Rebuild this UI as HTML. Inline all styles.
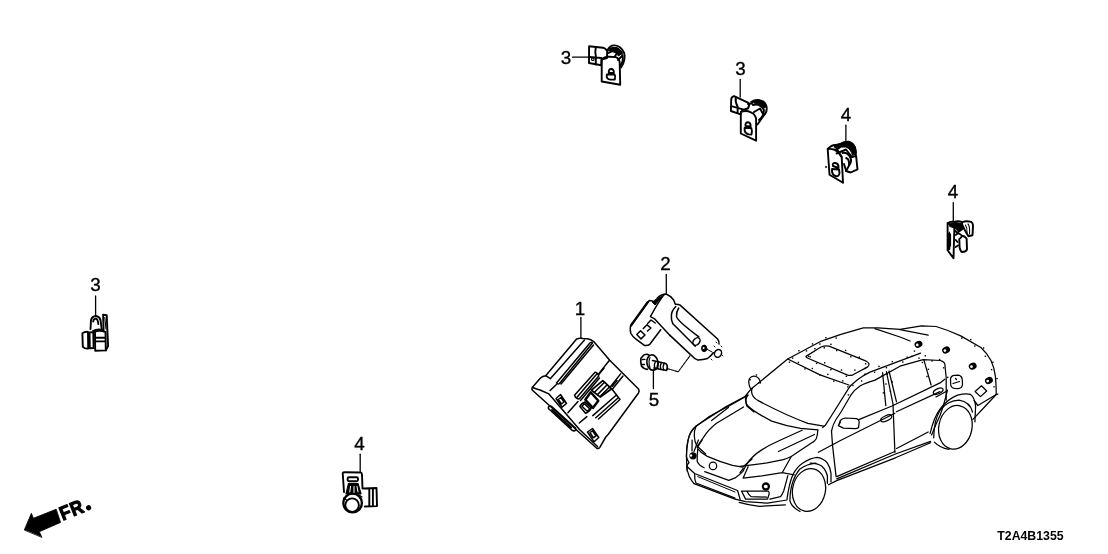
<!DOCTYPE html>
<html><head><meta charset="utf-8">
<style>
html,body{margin:0;padding:0;background:#fff;width:1108px;height:554px;overflow:hidden}
svg{display:block;will-change:transform}
text{font-family:"Liberation Sans",sans-serif;fill:#000}
</style></head><body>
<svg width="1108" height="554" viewBox="0 0 1108 554">
<rect width="1108" height="554" fill="#fff"/>
<g fill="none" stroke="#000" stroke-width="1.3" stroke-linecap="round" stroke-linejoin="round">

<!-- labels -->
<g font-size="18.8" stroke="#000" stroke-width="0.35" fill="#000" text-anchor="middle">
<text x="566" y="63.5">3</text>
<text x="740.5" y="74.5">3</text>
<text x="846" y="121">4</text>
<text x="953" y="197.8">4</text>
<text x="95.5" y="291">3</text>
<text x="359.5" y="450">4</text>
<text x="580" y="314.6">1</text>
<text x="665.5" y="270.2">2</text>
<text x="654" y="406.2">5</text>
</g>
<text x="997.3" y="540" font-size="13" font-weight="bold" stroke="none" textLength="66.3" lengthAdjust="spacingAndGlyphs">T2A4B1355</text>


<!-- sensor 3 top -->
<g stroke-width="1.9">
<path d="M589.1 46.3 L603 47.7 Q605.5 48.5 607.2 51 L607 58 L601.5 59.5 L601.2 65.3 L589 63 Z"/>
<path d="M595.8 47.5 Q594.6 52 596 57.3 M589.1 57 L601.5 58 M595.8 58 V64.4"/>
<circle cx="592.8" cy="59.2" r="1.3" stroke-width="1.1"/>
<path d="M601.7 81.5 L601.7 60 Q603.5 56.5 609.4 56.7 L615.7 57.1 Q619.5 58.5 619.7 62.6 L620.2 84.7 Z"/>
<path d="M608.8 73 Q608.5 69 611.2 69 Q614 69 613.8 73 Z M606.8 74.5 Q606 79.5 610.5 79.6 L614.8 79.6 Q615.8 76 614.6 74.5 Z"/>
<path d="M607.6 50 Q610 45 614.8 45.4 Q621 45.8 624.2 53 Q626 60 621.1 67.5"/>
<path d="M609.5 48.5 Q617 46 622 54 M608.5 53 L614 50.5 L617 53 L614.5 57 M618 60 L622.5 55.5 Q624 61 620 66"/>
<path d="M608.5 50.5 Q612 46.5 617 47.5 Q621 49.5 622.5 53 L618.5 56 Q616 51.5 612 51.5 Z" fill="#000" stroke-width="1"/>
</g>


<!-- sensor 3 mid -->
<g stroke-width="1.9">
<path d="M734 96.1 Q731 97 731.2 100 L730.9 111 L738.5 113.7 L740.8 114 M734 96.1 L748.5 102.8 Q750 105 748 108.5 L742 110"/>
<path d="M735.8 97.4 Q735 102 737.6 106.4 L737.6 113 M732.2 106.4 L742.1 109.1"/>
<path d="M740.8 112 L740.8 133.5 L756.1 140.7 L756.1 118.2 Q754.5 113.5 751 112.3 Q746 110 740.8 112"/>
<path d="M745.5 126 Q745 122.3 748 122.3 Q750.8 122.5 750.6 126.5 Z M744.6 128 Q744 133.5 749 134.4 L751.5 134.6 Q752.5 131 751.3 128 Z"/>
<path d="M751.2 101.9 Q754 99.8 759.3 100.1 Q765 101 766.5 106.4 Q767.5 112 763.8 115.5 L757.5 124.5"/>
<path d="M753 105 Q760 103 764 110 Q764 116 759 120 M748 104 L752 103.5 M754 112 L760 108.5 L762.5 113"/>
<path d="M752 102 Q756 99.5 760 100.2 Q765 101.5 766.5 106.5 L764 108 Q761 103.5 756 103.5 Z" fill="#000" stroke-width="1"/>
</g>


<!-- sensor 4 upper -->
<g stroke-width="1.9">
<path d="M827.7 149 L829.5 174.7 L843 182.8 L841.7 157.1 Q838 151 834 149.5 Q830 148.5 827.7 149 Z"/>
<path d="M827.7 149 Q832 144.5 836 145 L841.7 143.6 Q845 141.5 848.9 141.8 Q854 143 855.2 148.5 Q856.5 152 855.6 156"/>
<path d="M834.5 145 L841.7 157.1 M836.5 153.5 L846 149.5 L852 157"/>
<path d="M833 166 Q832 162.5 835.5 163 Q839 164 838.5 168 Z M832 169 Q831.5 175 835.5 176 Q839 177 839.5 173 L839 169.5 Z"/>
<path d="M842.6 153 Q847 152 849.5 156 Q852 160 850.5 163 L846 171 L850.7 172.5 L857.5 169.3 L856.1 155.8 L850.7 157.6"/>
<path d="M846.2 158 Q849.5 159 849 165 M844 164 L846.2 171"/>
<circle cx="825.9" cy="167" r="0.6" stroke-width="0.9"/>
<path d="M838 144.5 Q843 141 848.9 141.5 Q854.5 143 855.8 149 L856 154 L852.5 155.5 Q851 149 846 147 Q841 146.5 838 148 Z" fill="#000" stroke-width="1"/>
<path d="M836 150 L840 147.5 M834.5 147 L838 145.5" stroke-width="1.5"/>
</g>


<!-- sensor 4 right -->
<g stroke-width="1.9">
<path d="M947.6 223.1 L947.6 250.2 L953.5 258.3 L954.4 226.7 L947.6 223.1 M947.6 223.1 Q951 221 954.4 222 Q958 220.5 962.1 222.2"/>
<path d="M949.5 232 L949.5 248 M950.5 234 V246" stroke-width="1.2"/>
<path d="M951 225 Q955 223 960 225.5 L962.5 229 L957 233 L955.5 231"/>
<path d="M962.1 222.2 Q966 220.5 971.1 221.8 Q973.5 223.5 972.9 228 L972.5 235.3 L968.4 236.2 Q964.5 230 962.1 224.5 Z"/>
<path d="M968 224 Q970 226 969.5 234 M965.5 225 Q967.5 228 967 233" stroke-width="1.1"/>
<path d="M955.8 234.9 Q958.5 232 962 235.8 Q961 238 959.3 239 L959.6 247.5 Q960.5 251.5 962.1 252 Q966 252 967 249.3 L966.6 238.5 Q964.5 236 962 235.8"/>
<path d="M955.8 240 L957.5 242 M955.6 247 L958 245.5"/>
<path d="M950 224 Q955 221.5 961 223.5 L962.5 228 L958.5 231.5 Q955 227 950 226.5 Z" fill="#000" stroke-width="1"/>
<path d="M949 234 L949 249" stroke-width="2.6"/>
</g>


<!-- sensor 3 left -->
<g stroke-width="1.9">
<path d="M90.5 329 L91 320 Q92 316.2 95.9 316 Q99.5 316.5 100.5 320 L101.8 329.6"/>
<path d="M93.2 321.5 Q93.5 318.5 96 318.6 Q98 319.5 98.3 324"/>
<path d="M103.1 314.8 L106.7 315.2 L108.1 346 L105.8 350.4 M103.1 314.8 L103.6 331"/>
<path d="M104.8 317.5 L106 329" stroke-width="1.1"/>
<path d="M82.4 333.2 Q85 331.5 88 331.9 L88.2 348.6 Q85 349 82.8 346.8 Z"/>
<path d="M89.5 332.4 L93.3 332.3 L93.6 348 L89.8 348.3 Z"/>
<path d="M95 331.5 Q100 330 105.5 332 L105.8 350.4 L95.2 350.8 Z M95 337.8 H105.6 M95.2 341.4 H105.6"/>
<path d="M93 331 Q97 328.5 103 330"/>
</g>


<!-- sensor 4 bottom -->
<g stroke-width="1.9">
<path d="M344 492 L342.7 473 Q343 472.3 345 472.3 L361 472.5 Q362 473 362 475 L362.5 488.5"/>
<rect x="347.6" y="477.2" width="10.4" height="4" rx="1.5"/>
<path d="M363.9 488.5 L376.5 488 L377 506.1 L364.8 506.5 M369.3 489 V506 M372.9 489 V506"/>
<circle cx="352.6" cy="503" r="9.3" stroke-width="2.3"/>
<circle cx="352.1" cy="505.2" r="6.8"/>
<path d="M348.5 483.5 L358 483.5 L361 494 L346 494 Z" fill="#000" stroke-width="1.2"/>
<path d="M350.5 486.5 L349.8 492 M354 486.5 V492.5 M357 486.5 L358 492" stroke="#fff" stroke-width="1"/>
<path d="M343.5 498 L346.5 500 M359 495 L362 497" stroke-width="1.2"/>
</g>


<!-- FR arrow -->
<path d="M24.4 529.7 L31.4 513.3 L33.4 518.3 L56.2 509.2 L60.6 522.4 L39.3 531.7 L41.8 537.1 Z" fill="#000" stroke="#000" stroke-width="0.8"/>
<g transform="translate(58.1 508) rotate(-22)">
<text x="-0.6" y="13.6" font-size="19.5" font-weight="bold" stroke="#000" stroke-width="1.1" letter-spacing="0.6" transform="scale(0.9 1)">FR</text>
<circle cx="28.4" cy="11.2" r="2.6" fill="#000" stroke="none"/>
</g>


<!-- module 1 -->
<g stroke-width="1.5">
<path d="M576.6 339.1 Q579 337.8 583 338.4 L587.4 338.8 Q591 339.5 593.7 341.6 L609.5 360 L638.5 389 Q639.8 391 638.5 393 L608.3 434.3 L605.8 437 L599.8 447.3 Q598.5 449.3 596.5 448 L532.2 390 Q531.3 387.5 533.3 386.3 L540.5 378 Q542.5 376 545.7 375.7 L576.6 339.1"/>
<path d="M545.7 375.7 L550.3 378.7 L584.5 340"/>
<path d="M556.5 383 L589.5 343.5 Q591 341.5 592.5 343 L559.5 383.5 Q558 384.7 556.5 383 Z"/>
<path d="M561 384 L593.5 345"/>
<path d="M533.3 387.8 Q536.5 389.3 540 390 L548.9 393.9 L579.5 429.5 L597.5 446.5"/>
<path d="M548.5 407 Q550 405 552 406.8 L575.5 428 Q576.5 430.5 574 431 L572 430.2 L550 410 Q547.8 408.5 548.5 407 Z"/>
<path d="M552 410 L571 427.5" stroke-width="2"/>
<path d="M598.4 374.1 L609.5 360.3 M609.7 387.8 L620.6 373.9 M612.5 389 L623 376 M567.9 412.8 L578 401.5 M579.3 423 L586.8 416.6 M550.1 390.5 L556.4 384.5"/>
<path d="M556 398.5 L560.5 394.5 L566.5 403.5 L562 407.2 Z M558.3 399.5 L561 397.5 L564 402 L561.5 404 Z"/>
<path d="M587.5 432 L592.5 428.5 L598.8 437.5 L594 441.8 Z M590 432.5 L592.5 430.8 L596 435.8 L593.3 437.8 Z"/>
<!-- connector -->
<path d="M574.5 395.3 L594.8 372.4 Q596.5 371.5 598.8 375.9 L579.4 398.8 Q576 399.5 574.5 395.3 Z M577.4 396.8 L596.8 373.9 M580.5 400.5 L599.5 378"/>
<path d="M591.5 390.1 L602.8 380.6 L611.7 388.8 L600.3 397.1 Z" stroke-width="1.8"/>
<path d="M594.5 392.3 L604.5 382.2 M597.5 394.6 L607.2 384.8 M600.5 396 L609.5 387" stroke-width="1.5"/>
<path d="M590.7 392.2 L598.3 400.8 L592.9 407.9 L585.3 399.7 Z" stroke-width="2.4"/>
<path d="M579.9 406.5 Q580.5 404 585 402 L591.2 408 Q590 411.5 585.5 413.3 Z M584.5 403.8 L589.8 409 L587.3 411.3 L581.9 406.2 Z" stroke-width="1.5"/>
<path d="M612.3 386.3 L617 380.6 M599 374.3 L604.1 368"/>
<path d="M592.8 415.6 L616.7 394.8 M595.8 417.8 L618.5 397.5 M598.5 419 L620 399.5 L611.7 388.8"/>
</g>

<!-- bracket 2 -->
<g stroke-width="1.5">
<path d="M657.4 297.7 Q661.5 294 666.1 294 Q670 295.5 673.7 299.9 L675.3 304.2 Q678 304 680.1 305.1 L717.6 339 Q719.5 341.5 719 344 M670 335.4 L691.6 355.6 Q694.5 359 697.4 359.9 Q703 360 707.5 358.5 Q711 356 713.3 352.7"/>
<path d="M664.4 294.5 Q660 299 650.4 316.7 L654.7 318.9 L670 335.4"/>
<path d="M649.3 300.5 L652.5 301 L655.2 303.2 M649.3 300.5 L630.3 327 Q630 331 630.9 333.5 Q632.5 336.5 635.7 338.9 L644.4 345.4 Q647.5 346 649.8 344.3 L660.7 329.7"/>
<path d="M647.7 302.1 L630.9 325.4" stroke-width="2.2"/>
<path d="M657 298.5 L662 296.5 L655 305 L652.5 302.5 Z" fill="#000" stroke-width="1"/>
<path d="M636.8 334.5 L640.5 330.8 L645 335 L641 338.9 Z M643.3 328.5 L647 324.8 L650.9 328 L647.5 331 M647.7 323.5 L651 320 L655.2 323"/>
<path d="M675.8 306.5 Q671.5 311 671.4 315.2 Q671 320 672.9 323.8 L693.1 344 L695.2 346.2 M678.7 308 Q676 312 676.5 316.6 Q677.5 321 698.8 336.8"/>
<ellipse cx="696.5" cy="341.5" rx="3" ry="4.2" transform="rotate(40 696.5 341.5)"/>
<ellipse cx="704.2" cy="348.4" rx="2.6" ry="3.3" fill="#000" stroke-width="1"/>
<circle cx="703.6" cy="348" r="1" fill="#fff" stroke="none"/>
<ellipse cx="718" cy="353.4" rx="3.4" ry="4" transform="rotate(30 718 353.4)"/>
<path d="M707.5 349.5 L712 352" stroke-width="1"/>
<path d="M716 342 L717 343 M721 346 L722 347 M714 346 L715 347 M711 359 L712 360 M722 355 L723 356" stroke-width="0.9"/>
</g>
<!-- bolt 5 -->
<g stroke-width="1.7">
<path d="M642 357 Q644 354 647 354.3 L649 355 M641 358 Q640.3 362 641.5 366 Q643.5 369 647.5 369.3"/>
<path d="M642.5 359.5 L645 359.3 M642 364.5 L644.5 364.5" stroke-width="1.3"/>
<ellipse cx="652.5" cy="362.6" rx="5.6" ry="7.7" transform="rotate(-10 652.5 362.6)"/>
<path d="M650 357.5 Q648 362 650 367.5" stroke-width="1.1"/>
<path d="M652.5 360.5 L665.8 363.5 Q668.5 366 666.5 370.5 L654 368"/>
<path d="M655.5 361.5 Q653.5 365 655 368.5 M658.5 362 Q656.5 365.5 658 369 M661.5 362.5 Q659.5 366 661 369.7 M664.3 363.2 Q662.3 366.5 663.8 370.2" stroke-width="1.3"/>
</g>
<path d="M667.4 368.6 L678.2 371.8 L690.1 355.6" stroke-width="1.1" stroke-dasharray="3 1"/>


<!-- car -->
<g stroke-width="1.25">
<!-- roof / A pillar left / fender outer -->
<path d="M687.2 470 Q685.8 456 687.2 444.9 Q688.5 436 691 432 Q693.5 428 696 426 L726.2 406.6 L745 396.5 L750.8 389.3 L787.7 359 L820 341.7 Q842 333.5 863.3 327.9 L877.8 327.9 L900 329.4 L921.7 325.8 L936.1 326.5 Q948 330 960.7 335.9 L980.9 347.5 Q987 353 991 360.5 Q994.5 368 995.4 376.4 L996.1 386.5 L996.2 394.5 L985 406.5 L972.9 419.4"/>
<!-- trunk lines -->
<path d="M874.9 328.7 L900 337 L910.1 341 M900 329.6 L928.2 335.2"/>
<!-- windshield top -->
<path d="M787.7 359 L820 374.9 L848.9 385"/>
<!-- sunroof -->
<path d="M806.4 356.1 L821 347 Q825.5 345.2 829 346.2 L866.2 361.2 Q871 363.5 867.7 366.9 L853 374.8 Q850 376 847 374.8 L808.5 358.5 Q805 357 806.4 356.1 Z"/>
<!-- A pillar right / door frame -->
<path d="M849.9 386.3 L831.9 415 L825.1 425.6 L822.6 427.5"/>
<path d="M849.9 386.3 L857.2 380 Q862 376 870 372.1 L895.3 362.6 L920.6 353.2"/>
<path d="M831.5 431 Q833 424 836 419.5 L841 412 L850.8 395.2 Q854 390 860 386 Q865 383 875 380.1 L900 366.2 L923.1 359.7 L940.5 360.5 Q944.5 362 944.8 364 L946.2 377.8 L946.2 400"/>
<!-- B pillar -->
<path d="M882.6 372.7 L885.8 405.6 M886.4 371.5 L893 404 L894.9 452.3 M889 371 L896.5 401.8"/>
<!-- rear door window rear edge -->
<path d="M923.8 359.7 L931.1 385"/>
<!-- windshield bottom & cowl -->
<path d="M752.2 388 Q749.5 396 758.7 400.9 Q785 415 807.8 423.3 L823.7 426.2"/>
<path d="M746.4 395.8 Q744 401 748 406 Q754 412 771.7 421.1 Q786 426 800.6 428.4 L817.9 429.8"/>
<!-- left mirror -->
<path d="M750.8 389.3 Q747.5 383 749.5 378.5 Q752 375 756 376.5 Q760 378.5 760.5 383"/>
<!-- hood lines -->
<path d="M748 395.1 L727.3 407 Q715 413 708.9 416.8 L695.9 426.5 Q690 431 688.3 439.5 Q686.4 447 686.4 456.4 Q687 460 689 462.7 Q686.5 465 687 466.5 Q687 472 687.7 471.6 Q689 477 691.5 480.4 L694 483.6"/>
<path d="M696 426.5 Q693.8 431 694.3 436 Q694.5 442 697 446 L705.7 454"/>
<path d="M711.6 420.5 L728.4 407.5"/>
<path d="M743.6 407 L716.5 423.3 Q708 430 703.5 437.3 L697.5 446"/>
<path d="M748 395 Q744.5 400 746.8 405.9 L754 411.9"/>
<!-- headlight right -->
<path d="M746 465.1 Q752 456 761.7 449.9 Q769 445 777.9 441.2 L802.1 430.2 M778.4 451.5 L814.5 434.5"/>
<path d="M817.8 430.2 Q817.5 436 816.2 438.8 Q815 441 812.9 442.1 L791.2 456.5 Q786 458.8 783.3 459.7 L767.1 462.9 L740 466.4"/>
<path d="M791 457 L782.2 472.7 L761.7 475.9 L743.2 478.1 L748.1 466.7 M782.2 472.7 L794.2 474.8 M743.2 468.3 L740 472.7"/>
<!-- left headlight -->
<path d="M692.1 440 L692 451 M698.4 440 L694 451.4 M702.2 440 L697.2 447.6"/>
<circle cx="693" cy="455.8" r="3" fill="#000"/>
<circle cx="691" cy="455.5" r="1.2" fill="#fff" stroke="none"/>
<!-- grille -->
<path d="M697.8 448.8 Q701 453 707.3 456.4 Q720 462 732.5 465.3 L742.7 467.2 L747.7 462.7 L752 459"/>
<path d="M697.8 448.8 Q697 455 697.2 461.5 Q699 465.5 704.1 467.8"/>
<path d="M704.7 471.6 L728.8 480.4 L735.1 477.9 Q740 474.5 742.7 471.6 L746 465.5"/>
<circle cx="713" cy="465.9" r="3.7"/>
<!-- bumper -->
<path d="M687 466.5 L694.6 473.5 L731.3 488 L737.6 490.5 L740.1 499.4"/>
<path d="M694 483.6 L735 499.1 L745.6 501.6 L767.5 503.2 L787 500"/>
<path d="M739.1 502.4 Q748 505 759.4 506.4 L785.4 504.8"/>
<path d="M694.6 474.1 Q694.5 480 695.9 483 L735.1 498.1"/>
<path d="M697.8 476.6 L735 492" stroke-width="1"/>
<circle cx="765.9" cy="486.5" r="3" stroke-width="2.3"/>
<circle cx="765" cy="486.5" r="1.2" fill="#fff" stroke="none"/>
<path d="M741.5 491 L768.3 491 Q769.5 493 769.1 494.2 L767.5 499.1 L745.6 499.1 Z M747.2 491.8 Q749 495.5 751.2 496.7 L766.7 497.1"/>
<path d="M787.8 475.6 Q786 483 783.7 491 Q782 495 780.5 496.7 L769.9 499.1"/>
<!-- front wheel -->
<ellipse cx="809" cy="490" rx="16.4" ry="21.6" transform="rotate(12 809 490)"/>
<path d="M800 511.5 Q791 506.5 789.9 500.6 Q790 490 792.8 481.9 Q795.5 474 800 468.9 Q807 464 815.9 463.1"/>
<path d="M787 499.2 Q789 484 792.8 474.7 Q797 467 802.9 463.1 Q810 458 817.3 457.3 Q824 458.5 827.4 463.1 Q830.5 468 831 473.2 L831 481.9"/>
<path d="M810.1 463.1 Q817 463 821.6 466 Q826 470 827.4 476 L827.4 483.3"/>
<!-- sill -->
<path d="M836.7 476.6 L894.8 451.5 M896.6 448.5 L928.2 432 M836.7 478.8 L895.4 454 L930.6 441.4 M828.5 484.8 L836.7 480.6 L895.4 457.8 L930.6 442.8"/>
<!-- door edges -->
<path d="M831.5 431 L832.6 446.1 L836.1 476.6"/>
<!-- belt lines -->
<path d="M858.8 419.7 L892 406 L940 382.9 L944.8 379.2 M896.4 411.8 L940 391.6"/>
<!-- character line -->
<path d="M818.4 452.3 L840 440.7 L894.9 413.2 M936 397 L947 391"/>
<!-- side mirror -->
<path d="M840.3 420.5 Q842.5 418 845.3 418 L856.7 418.6 Q859 419.5 859.2 421.8 L858.6 427.5 Q857 428.7 855.4 428.7 L843.4 428.1 L838.4 425.6 Z M838.4 425.6 L840.5 422"/>
<!-- door handles -->
<ellipse cx="886.2" cy="418.3" rx="6" ry="2.6" transform="rotate(-25 886.2 418.3)"/>
<ellipse cx="938.2" cy="391.2" rx="5.2" ry="2.5" transform="rotate(-25 938.2 391.2)"/>
<!-- rear door rear edge -->
<path d="M947.4 390.1 Q944 405 940.2 415 Q935.5 425 931.6 434.9"/>
<!-- fuel door & reflector -->
<path d="M950.5 379.5 Q950.5 376 954 375.4 L958.5 375.2 Q962 376 962.3 380 L962.5 384.5 Q962 388.6 958 388.6 L954.5 388.4 Q951 388 950.7 384.5 Z M953 383.5 L959.5 381.5 M955.5 378.5 L956.5 379.5"/>
<path d="M975.1 391.5 L981.5 385.8 L986.7 391 L980.5 396.6 Z"/>
<!-- rear wheel -->
<ellipse cx="955.4" cy="427.3" rx="16.6" ry="22" transform="rotate(12 955.4 427.3)"/>
<path d="M933.7 437.8 Q934 420 940.2 410 Q948 400.5 959 400.2 Q970 402 972.5 412"/>
<path d="M930.1 433.4 Q934 417 940.2 408.9 Q947 399.5 957.5 395.2 Q966 393 970.5 394.4 Q974.5 397 975.6 406 L974.9 421.9"/>
<path d="M974.1 400.5 L977.9 405.5 L996.2 394.5"/>
<path d="M934.4 442.1 Q940 448 948.9 449.3"/>
<!-- sensor dots -->
<ellipse cx="918.5" cy="344.3" rx="3.4" ry="2.7" transform="rotate(-25 918.5 344.3)" fill="#000" stroke-width="1.3"/>
<ellipse cx="917.3" cy="344.9" rx="1.3" ry="1.4" fill="#fff" stroke="none"/>
<ellipse cx="946.1" cy="350.0" rx="3.4" ry="2.7" transform="rotate(-25 946.1 350.0)" fill="#000" stroke-width="1.3"/>
<ellipse cx="944.9" cy="350.6" rx="1.3" ry="1.4" fill="#fff" stroke="none"/>
<ellipse cx="972.7" cy="366.1" rx="3.4" ry="2.7" transform="rotate(-25 972.7 366.1)" fill="#000" stroke-width="1.3"/>
<ellipse cx="971.5" cy="366.7" rx="1.3" ry="1.4" fill="#fff" stroke="none"/>
<ellipse cx="988.9" cy="380.5" rx="3.4" ry="2.7" transform="rotate(-25 988.9 380.5)" fill="#000" stroke-width="1.3"/>
<ellipse cx="987.7" cy="381.1" rx="1.3" ry="1.4" fill="#fff" stroke="none"/>
</g>


<!-- dots -->
<g fill="#000" stroke="none">
<rect x="788.8" y="361.4" width="1.4" height="1.4"/>
<rect x="797.7" y="361.7" width="1.4" height="1.4"/>
<rect x="804.3" y="368.2" width="1.4" height="1.4"/>
<rect x="811.6" y="367.8" width="1.4" height="1.4"/>
<rect x="819.2" y="374.2" width="1.4" height="1.4"/>
<rect x="827.2" y="373.7" width="1.4" height="1.4"/>
<rect x="833.1" y="380.5" width="1.4" height="1.4"/>
<rect x="842.1" y="380.2" width="1.4" height="1.4"/>
<rect x="847.1" y="386.2" width="1.4" height="1.4"/>
<rect x="791.9" y="357.4" width="1.4" height="1.4"/>
<rect x="798.2" y="350.0" width="1.4" height="1.4"/>
<rect x="805.8" y="350.2" width="1.4" height="1.4"/>
<rect x="811.8" y="343.2" width="1.4" height="1.4"/>
<rect x="819.2" y="343.3" width="1.4" height="1.4"/>
<rect x="825.2" y="337.0" width="1.4" height="1.4"/>
<rect x="835.5" y="337.3" width="1.4" height="1.4"/>
<rect x="808.0" y="355.7" width="1.4" height="1.4"/>
<rect x="814.2" y="348.0" width="1.4" height="1.4"/>
<rect x="823.6" y="347.1" width="1.4" height="1.4"/>
<rect x="830.3" y="343.6" width="1.4" height="1.4"/>
<rect x="836.0" y="349.8" width="1.4" height="1.4"/>
<rect x="844.9" y="349.7" width="1.4" height="1.4"/>
<rect x="850.1" y="356.1" width="1.4" height="1.4"/>
<rect x="858.6" y="356.4" width="1.4" height="1.4"/>
<rect x="864.9" y="363.1" width="1.4" height="1.4"/>
<rect x="864.5" y="367.7" width="1.4" height="1.4"/>
<rect x="854.2" y="369.4" width="1.4" height="1.4"/>
<rect x="845.7" y="375.6" width="1.4" height="1.4"/>
<rect x="840.8" y="369.3" width="1.4" height="1.4"/>
<rect x="830.2" y="369.0" width="1.4" height="1.4"/>
<rect x="824.0" y="362.1" width="1.4" height="1.4"/>
<rect x="815.9" y="362.7" width="1.4" height="1.4"/>
<rect x="809.5" y="356.1" width="1.4" height="1.4"/>
<rect x="847.7" y="394.2" width="1.4" height="1.4"/>
<rect x="852.2" y="384.8" width="1.4" height="1.4"/>
<rect x="860.9" y="380.3" width="1.4" height="1.4"/>
<rect x="864.3" y="373.4" width="1.4" height="1.4"/>
<rect x="873.9" y="371.6" width="1.4" height="1.4"/>
<rect x="878.3" y="365.7" width="1.4" height="1.4"/>
<rect x="885.7" y="367.0" width="1.4" height="1.4"/>
<rect x="891.6" y="360.9" width="1.4" height="1.4"/>
<rect x="902.1" y="361.4" width="1.4" height="1.4"/>
<rect x="911.0" y="355.7" width="1.4" height="1.4"/>
<rect x="918.3" y="357.4" width="1.4" height="1.4"/>
<rect x="924.6" y="355.1" width="1.4" height="1.4"/>
<rect x="931.4" y="360.2" width="1.4" height="1.4"/>
<rect x="938.9" y="358.8" width="1.4" height="1.4"/>
<rect x="942.9" y="367.1" width="1.4" height="1.4"/>
<rect x="947.1" y="376.7" width="1.4" height="1.4"/>
<rect x="880.9" y="375.5" width="1.4" height="1.4"/>
<rect x="885.3" y="383.3" width="1.4" height="1.4"/>
<rect x="882.7" y="392.2" width="1.4" height="1.4"/>
<rect x="886.6" y="373.6" width="1.4" height="1.4"/>
<rect x="891.5" y="381.2" width="1.4" height="1.4"/>
<rect x="889.7" y="390.5" width="1.4" height="1.4"/>
<rect x="921.7" y="361.8" width="1.4" height="1.4"/>
<rect x="927.7" y="368.6" width="1.4" height="1.4"/>
<rect x="926.3" y="375.8" width="1.4" height="1.4"/>
<rect x="961.1" y="337.4" width="1.4" height="1.4"/>
<rect x="970.1" y="338.9" width="1.4" height="1.4"/>
<rect x="974.1" y="345.3" width="1.4" height="1.4"/>
<rect x="982.9" y="347.3" width="1.4" height="1.4"/>
<rect x="984.7" y="355.6" width="1.4" height="1.4"/>
<rect x="992.2" y="361.6" width="1.4" height="1.4"/>
<rect x="990.9" y="368.9" width="1.4" height="1.4"/>
<rect x="996.3" y="377.9" width="1.4" height="1.4"/>
<rect x="993.3" y="386.1" width="1.4" height="1.4"/>
<rect x="996.9" y="393.5" width="1.4" height="1.4"/>
<rect x="749.4" y="379.0" width="1.4" height="1.4"/>
<rect x="755.7" y="374.3" width="1.4" height="1.4"/>
<rect x="758.2" y="382.3" width="1.4" height="1.4"/>
<rect x="913.8" y="350.4" width="1.4" height="1.4"/>
<rect x="906.5" y="356.6" width="1.4" height="1.4"/>
</g>
<!-- leaders -->
<path d="M572.5 57.2H588.6"/>
<path d="M740.2 79.4V97"/>
<path d="M845.9 125.2V142.3"/>
<path d="M953.3 202.6V221.3"/>
<path d="M95.6 296V316"/>
<path d="M360.2 454.2V471.3"/>
<path d="M580.9 317.4V338"/>
<path d="M666.3 274.5V293.3"/>
<path d="M653.4 369.7V388.5"/>

</g>
</svg>
</body></html>
